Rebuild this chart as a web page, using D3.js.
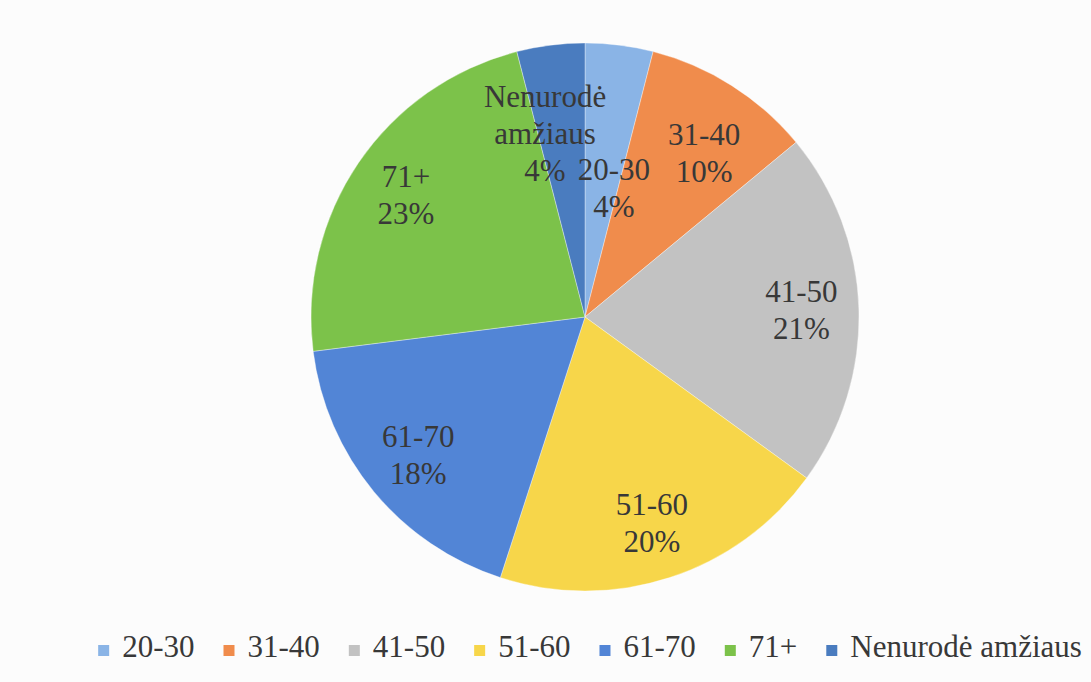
<!DOCTYPE html>
<html>
<head>
<meta charset="utf-8">
<script src="https://cdn.jsdelivr.net/npm/d3@7"></script>
<style>
  body { margin: 0; background: #fcfcfc; }
  svg { display: block; }
  text { font-family: "Liberation Serif", "Times New Roman", serif; fill: #383838; }
</style>
</head>
<body>
<svg id="chart"></svg>
<script>
// age groups and their share (%) as printed on the slices
const groups = ["20-30", "31-40", "41-50", "51-60", "61-70", "71+", "Nenurodė amžiaus"];
const shares = [4, 10, 21, 20, 18, 23, 4];
const colors = ["#8ab4e6", "#f08c4c", "#c2c2c2", "#f7d64a", "#5285d6", "#7cc24a", "#4a7cbf"];

// label lines inside the slices (long name broken in two like the original)
const labelLines = [["20-30"], ["31-40"], ["41-50"], ["51-60"], ["61-70"], ["71+"], ["Nenurodė", "amžiaus"]];

const width = 1091;
const height = 682;
const cx = 585, cy = 317, radius = 274;

// "best fit" tweaks for the crowded small slices: radius fraction + angle shift (deg)
const labelFit = {
    "20-30": [0.48, 5.5],
    "31-40": [0.74, 3.6],
    "Nenurodė amžiaus": [0.685, -5.1]
};

const svg = d3.select("#chart")
    .attr("width", width)
    .attr("height", height);

const data = groups.map(function(g, i) {
    return { group: g, share: shares[i], color: colors[i], lines: labelLines[i] };
});

const pie = d3.pie()
    .value(function(d) { return d.share; })
    .sort(null);

const arc = d3.arc().innerRadius(0).outerRadius(radius);

const arcs = pie(data);

const g = svg.append("g").attr("transform", `translate(${cx},${cy})`);

g.selectAll("path")
    .data(arcs)
    .join("path")
    .attr("d", arc)
    .attr("fill", function(d) { return d.data.color; })
    .attr("stroke", "#ffffff")
    .attr("stroke-opacity", 0.35)
    .attr("stroke-width", 1);

const fontSize = 31;
const lineH = 37;

function labelPos(d) {
    let frac = 0.79, shift = 0;
    if (labelFit[d.data.group]) {
        frac = labelFit[d.data.group][0];
        shift = labelFit[d.data.group][1];
    }
    const a = (d.startAngle + d.endAngle) / 2 + shift * Math.PI / 180;
    const r = radius * frac;
    return [Math.sin(a) * r, -Math.cos(a) * r];
}

g.selectAll("text.lbl")
    .data(arcs)
    .join("text")
    .attr("class", "lbl")
    .attr("text-anchor", "middle")
    .style("font-size", fontSize + "px")
    .each(function(d) {
        const p = labelPos(d);
        const lines = d.data.lines.concat([d.data.share + "%"]);
        const top = p[1] - (lines.length - 1) * lineH / 2 + fontSize * 0.33;
        const t = d3.select(this);
        lines.forEach(function(l, i) {
            t.append("tspan")
                .attr("x", p[0])
                .attr("y", top + i * lineH)
                .text(l);
        });
    });

// legend, laid out from measured text widths and centred under the pie
const legendY = 657;
const sq = 11, sqGap = 13, itemGap = 29;
const legend = svg.append("g").attr("class", "legend");

const items = legend.selectAll("g")
    .data(data)
    .join("g");

items.append("rect")
    .attr("width", sq)
    .attr("height", sq)
    .attr("y", legendY - sq - 1)
    .attr("fill", function(d) { return d.color; });

items.append("text")
    .attr("x", sq + sqGap)
    .attr("y", legendY)
    .style("font-size", "31px")
    .text(function(d) { return d.group; });

const widths = [];
items.each(function() {
    widths.push(this.querySelector("text").getComputedTextLength() + sq + sqGap);
});
const total = d3.sum(widths) + itemGap * (widths.length - 1);
let xoff = 590 - total / 2;
items.attr("transform", function(d, i) {
    const x = xoff;
    xoff += widths[i] + itemGap;
    return `translate(${x},0)`;
});
</script>
</body>
</html>
